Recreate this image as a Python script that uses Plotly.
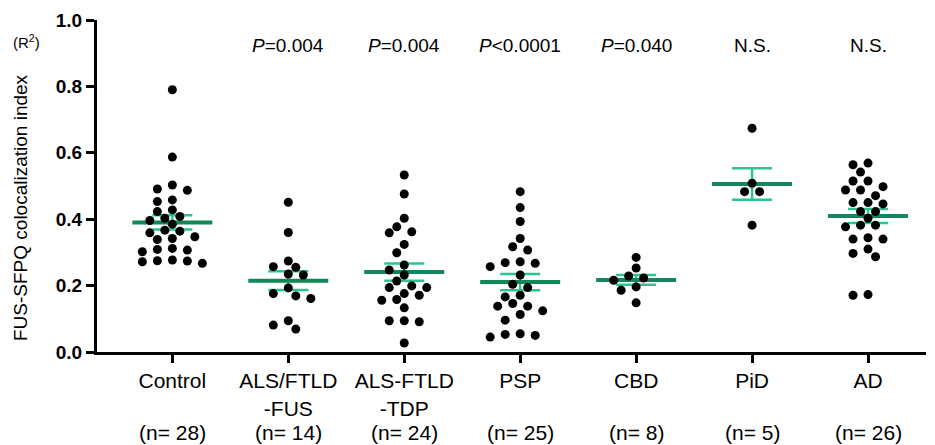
import numpy as np
import plotly.graph_objects as go

# ---------------- data ----------------
categories = ["Control", "ALS/FTLD<br>-FUS", "ALS-FTLD<br>-TDP", "PSP", "CBD", "PiD", "AD"]
n_labels = ["(n= 28)", "(n= 14)", "(n= 24)", "(n= 25)", "(n= 8)", "(n= 5)", "(n= 26)"]
p_labels = ["", "<i>P</i>=0.004", "<i>P</i>=0.004", "<i>P</i>&lt;0.0001", "<i>P</i>=0.040", "N.S.", "N.S."]

control = [0.790, 0.587, 0.487, 0.491, 0.503, 0.453, 0.458, 0.423, 0.428, 0.408, 0.396, 0.403,
           0.385, 0.359, 0.367, 0.364, 0.347, 0.342, 0.339, 0.307, 0.309, 0.302, 0.312,
           0.272, 0.277, 0.275, 0.267, 0.274]
als_fus = [0.451, 0.360, 0.274, 0.257, 0.255, 0.232, 0.235, 0.169, 0.176, 0.193, 0.161,
           0.094, 0.081, 0.069]
als_tdp = [0.533, 0.476, 0.403, 0.377, 0.362, 0.359, 0.324, 0.299, 0.262, 0.247, 0.232, 0.214,
           0.199, 0.194, 0.194, 0.176, 0.156, 0.158, 0.171, 0.133, 0.094, 0.091, 0.094, 0.027]
psp = [0.483, 0.435, 0.393, 0.342, 0.307, 0.317, 0.267, 0.272, 0.269, 0.257, 0.232, 0.204,
       0.194, 0.166, 0.171, 0.138, 0.146, 0.138, 0.124, 0.113, 0.096, 0.045, 0.055, 0.050, 0.053]
cbd = [0.285, 0.253, 0.229, 0.216, 0.223, 0.196, 0.186, 0.148]
pid = [0.674, 0.508, 0.483, 0.483, 0.382]
ad = [0.564, 0.569, 0.542, 0.515, 0.515, 0.488, 0.488, 0.498, 0.471, 0.450, 0.450, 0.446,
      0.423, 0.423, 0.403, 0.377, 0.382, 0.382, 0.340, 0.340, 0.344, 0.310, 0.297, 0.287,
      0.171, 0.173]

groups = [control, als_fus, als_tdp, psp, cbd, pid, ad]

# ---------------- layout constants ----------------
OFF = 8                      # default page body margin
W, H = 935 - OFF, 445 - OFF
ML, MR, MT, MB = 97 - OFF, 9, 20 - OFF, 93
XR = (-0.65, 6.5)
plot_w = W - ML - MR
plot_h = H - MT - MB
px_per_cat = plot_w / (XR[1] - XR[0])
px_per_unit = plot_h / 1.0

MEAN_COLOR = "#12885a"
SEM_COLOR = "#2ec490"


def swarm_offsets(vals, dmin=9.5, step=7.5):
    vals = np.asarray(vals, dtype=float)
    order = np.argsort(-vals, kind="stable")
    cands = [0.0]
    for k in range(1, 14):
        cands += [-k * step, k * step]
    placed = []
    offs = np.zeros(len(vals))
    for i in order:
        y = vals[i] * px_per_unit
        best = 0.0
        for c in cands:
            ok = True
            for (px, py) in placed:
                if (px - c) ** 2 + (py - y) ** 2 < dmin ** 2:
                    ok = False
                    break
            if ok:
                best = c
                break
        placed.append((best, y))
        offs[i] = best
    return offs


def paper_y(page_px):
    return 1 - (page_px - OFF - MT) / plot_h


fig = go.Figure()

# mean and SEM
mx, my = [], []
ex, ey, es = [], [], []
for i, g in enumerate(groups):
    arr = np.asarray(g)
    m = arr.mean()
    sem = arr.std(ddof=1) / np.sqrt(len(arr))
    mx += [i - 0.345, i + 0.345, None]
    my += [m, m, None]
    ex.append(i)
    ey.append(m)
    es.append(sem)

fig.add_trace(go.Scatter(
    x=ex, y=ey, mode="markers", marker=dict(size=0.1, color=SEM_COLOR),
    error_y=dict(type="data", array=es, visible=True, color=SEM_COLOR, thickness=2.5, width=20),
    hoverinfo="skip", cliponaxis=False))
fig.add_trace(go.Scatter(
    x=mx, y=my, mode="lines", line=dict(color=MEAN_COLOR, width=4), hoverinfo="skip",
    cliponaxis=False))

# dots
dx, dy = [], []
for i, g in enumerate(groups):
    offs = swarm_offsets(g)
    for v, o in zip(g, offs):
        dx.append(i + o / px_per_cat)
        dy.append(v)
fig.add_trace(go.Scatter(
    x=dx, y=dy, mode="markers", marker=dict(size=9, color="black"),
    cliponaxis=False))

annotations = []
for i, p in enumerate(p_labels):
    if p:
        annotations.append(dict(x=i, y=paper_y(45), xref="x", yref="paper", text=p,
                                showarrow=False, font=dict(size=19, color="black"),
                                yanchor="middle"))
for i, n in enumerate(n_labels):
    annotations.append(dict(x=i, y=paper_y(432), xref="x", yref="paper", text=n,
                            showarrow=False, font=dict(size=21, color="black"),
                            yanchor="middle"))

annotations.append(dict(x=0, xref="paper", xanchor="center", xshift=-77,
                        y=paper_y(208), yref="paper", yanchor="middle",
                        text="FUS-SFPQ colocalization index", textangle=-90, showarrow=False,
                        font=dict(size=19, color="black")))
annotations.append(dict(x=0, xref="paper", xanchor="center", xshift=-71,
                        y=paper_y(41), yref="paper", yanchor="middle",
                        text="(R<sup>2</sup>)", showarrow=False,
                        font=dict(size=15, color="black")))

fig.update_layout(
    width=W, height=H,
    margin=dict(l=ML, r=MR, t=MT, b=MB, pad=0, autoexpand=False),
    plot_bgcolor="white", paper_bgcolor="white",
    showlegend=False,
    font=dict(family="Liberation Sans, Arial, sans-serif", color="black"),
    annotations=annotations,
    xaxis=dict(range=list(XR), tickvals=list(range(7)), ticktext=categories,
               automargin=False,
               showgrid=False, zeroline=False, showline=True, linewidth=3, linecolor="black",
               ticks="outside", ticklen=8, tickwidth=3, tickcolor="black",
               tickfont=dict(size=21, color="black")),
    yaxis=dict(range=[0, 1], tickvals=[0, 0.2, 0.4, 0.6, 0.8, 1.0], tickformat=".1f",
               automargin=False,
               showgrid=False, zeroline=False, showline=True, linewidth=3, linecolor="black",
               ticks="outside", ticklen=8, tickwidth=3, tickcolor="black",
               tickfont=dict(size=19, color="black", weight="bold")),
)

fig.write_html("out.html")
